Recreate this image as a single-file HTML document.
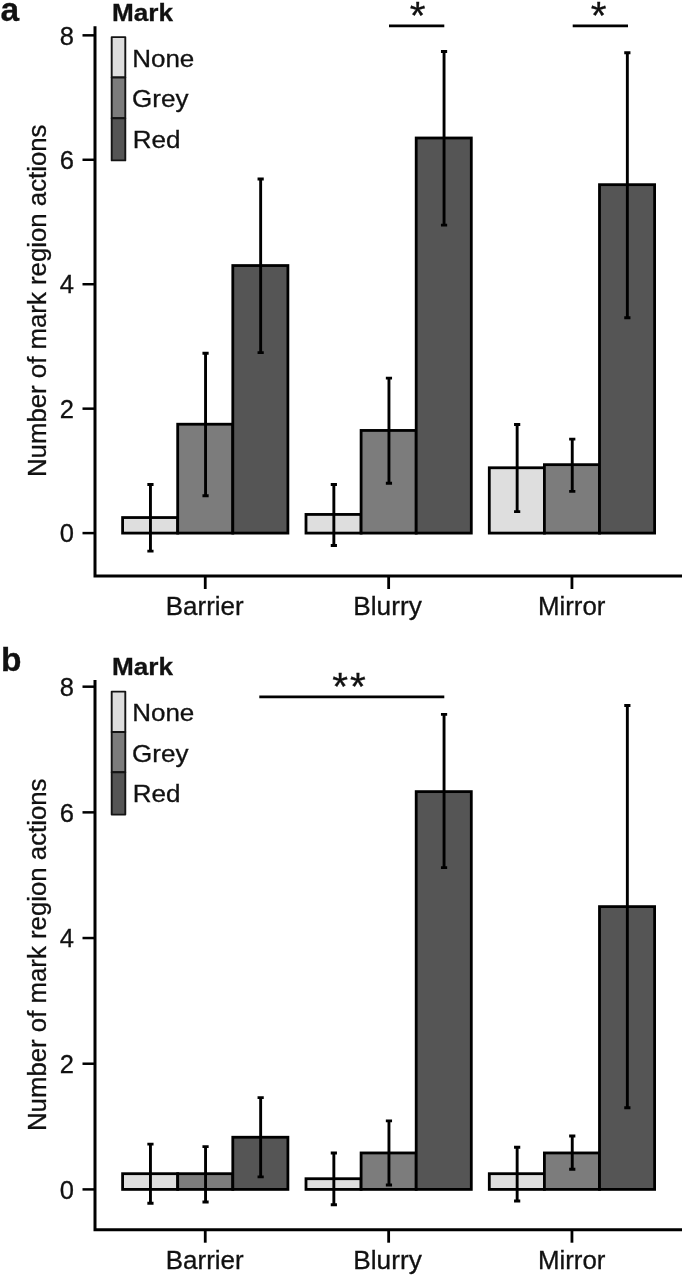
<!DOCTYPE html>
<html lang="en">
<head>
<meta charset="utf-8">
<title>Number of mark region actions</title>
<style>
html,body{margin:0;padding:0;background:#fff;}
body{width:685px;height:1277px;overflow:hidden;}
svg{display:block;will-change:transform;}
svg text{font-family:"Liberation Sans", Arial, Helvetica, sans-serif;fill:#111;stroke:#111;stroke-width:0.3px;}
</style>
</head>
<body>
<svg width="685" height="1277" viewBox="0 0 685 1277">
<rect width="685" height="1277" fill="#fff"/>
<g id="panel-a">
<rect x="122.6" y="517.55" width="55.1" height="15.55" fill="#dedede" stroke="#000" stroke-width="2.8" stroke-linejoin="miter"/>
<rect x="177.7" y="424.22" width="55.1" height="108.88" fill="#7c7c7c" stroke="#000" stroke-width="2.8" stroke-linejoin="miter"/>
<rect x="232.8" y="265.55" width="55.1" height="267.55" fill="#555555" stroke="#000" stroke-width="2.8" stroke-linejoin="miter"/>
<path d="M150.45 484.57V551.14" stroke="#000" stroke-width="2.9" fill="none"/>
<path d="M147.35 484.57h6.2M147.35 551.14h6.2" stroke="#000" stroke-width="2.9" fill="none"/>
<path d="M205.55 353.28V495.77" stroke="#000" stroke-width="2.9" fill="none"/>
<path d="M202.45 353.28h6.2M202.45 495.77h6.2" stroke="#000" stroke-width="2.9" fill="none"/>
<path d="M260.65 179.07V352.66" stroke="#000" stroke-width="2.9" fill="none"/>
<path d="M257.55 179.07h6.2M257.55 352.66h6.2" stroke="#000" stroke-width="2.9" fill="none"/>
<rect x="306" y="514.43" width="55.1" height="18.67" fill="#dedede" stroke="#000" stroke-width="2.8" stroke-linejoin="miter"/>
<rect x="361.1" y="430.44" width="55.1" height="102.66" fill="#7c7c7c" stroke="#000" stroke-width="2.8" stroke-linejoin="miter"/>
<rect x="416.2" y="138" width="55.1" height="395.1" fill="#555555" stroke="#000" stroke-width="2.8" stroke-linejoin="miter"/>
<path d="M333.85 484.57V545.54" stroke="#000" stroke-width="2.9" fill="none"/>
<path d="M330.75 484.57h6.2M330.75 545.54h6.2" stroke="#000" stroke-width="2.9" fill="none"/>
<path d="M388.95 378.17V483.32" stroke="#000" stroke-width="2.9" fill="none"/>
<path d="M385.85 378.17h6.2M385.85 483.32h6.2" stroke="#000" stroke-width="2.9" fill="none"/>
<path d="M444.05 51.52V225.11" stroke="#000" stroke-width="2.9" fill="none"/>
<path d="M440.95 51.52h6.2M440.95 225.11h6.2" stroke="#000" stroke-width="2.9" fill="none"/>
<rect x="489.3" y="467.77" width="55.1" height="65.33" fill="#dedede" stroke="#000" stroke-width="2.8" stroke-linejoin="miter"/>
<rect x="544.4" y="464.66" width="55.1" height="68.44" fill="#7c7c7c" stroke="#000" stroke-width="2.8" stroke-linejoin="miter"/>
<rect x="599.5" y="184.67" width="55.1" height="348.43" fill="#555555" stroke="#000" stroke-width="2.8" stroke-linejoin="miter"/>
<path d="M517.15 424.53V511.63" stroke="#000" stroke-width="2.9" fill="none"/>
<path d="M514.05 424.53h6.2M514.05 511.63h6.2" stroke="#000" stroke-width="2.9" fill="none"/>
<path d="M572.25 439.15V491.41" stroke="#000" stroke-width="2.9" fill="none"/>
<path d="M569.15 439.15h6.2M569.15 491.41h6.2" stroke="#000" stroke-width="2.9" fill="none"/>
<path d="M627.35 52.76V317.82" stroke="#000" stroke-width="2.9" fill="none"/>
<path d="M624.25 52.76h6.2M624.25 317.82h6.2" stroke="#000" stroke-width="2.9" fill="none"/>
<path d="M95 26.3V576H682" stroke="#000" stroke-width="3" fill="none" stroke-linejoin="miter"/>
<path d="M82.5 533.1H95" stroke="#000" stroke-width="2.5"/>
<text x="74" y="542.3" text-anchor="end" font-size="25.0" textLength="14.2" lengthAdjust="spacingAndGlyphs">0</text>
<path d="M82.5 408.66H95" stroke="#000" stroke-width="2.5"/>
<text x="74" y="417.86" text-anchor="end" font-size="25.0" textLength="14.2" lengthAdjust="spacingAndGlyphs">2</text>
<path d="M82.5 284.22H95" stroke="#000" stroke-width="2.5"/>
<text x="74" y="293.42" text-anchor="end" font-size="25.0" textLength="14.2" lengthAdjust="spacingAndGlyphs">4</text>
<path d="M82.5 159.78H95" stroke="#000" stroke-width="2.5"/>
<text x="74" y="168.98" text-anchor="end" font-size="25.0" textLength="14.2" lengthAdjust="spacingAndGlyphs">6</text>
<path d="M82.5 35.34H95" stroke="#000" stroke-width="2.5"/>
<text x="74" y="44.54" text-anchor="end" font-size="25.0" textLength="14.2" lengthAdjust="spacingAndGlyphs">8</text>
<path d="M205.25 576V589" stroke="#000" stroke-width="2.8"/>
<text x="165.8" y="614.7" font-size="25.0" textLength="77.8" lengthAdjust="spacingAndGlyphs">Barrier</text>
<path d="M388.65 576V589" stroke="#000" stroke-width="2.8"/>
<text x="353.3" y="614.7" font-size="25.0" textLength="68.5" lengthAdjust="spacingAndGlyphs">Blurry</text>
<path d="M571.95 576V589" stroke="#000" stroke-width="2.8"/>
<text x="537.9" y="614.7" font-size="25.0" textLength="67.5" lengthAdjust="spacingAndGlyphs">Mirror</text>
<text transform="translate(46.3,477) scale(1.04,1) rotate(-90)" font-size="25.3" textLength="352.5" lengthAdjust="spacingAndGlyphs">Number of mark region actions</text>
<rect x="111.7" y="37.1" width="13.6" height="40.4" fill="#dedede" stroke="#141414" stroke-width="1.9" stroke-linejoin="round"/>
<rect x="111.7" y="77.5" width="13.6" height="40.7" fill="#7c7c7c" stroke="#141414" stroke-width="1.9" stroke-linejoin="round"/>
<rect x="111.7" y="118.2" width="13.6" height="42.2" fill="#555555" stroke="#141414" stroke-width="1.9" stroke-linejoin="round"/>
<text x="132.2" y="66.8" font-size="24.2" textLength="62.1" lengthAdjust="spacingAndGlyphs">None</text>
<text x="132" y="107.3" font-size="24.2" textLength="56.4" lengthAdjust="spacingAndGlyphs">Grey</text>
<text x="132.8" y="148.2" font-size="24.2" textLength="47.7" lengthAdjust="spacingAndGlyphs">Red</text>
<text x="112" y="21.3" font-size="23.2" font-weight="bold" textLength="61" lengthAdjust="spacingAndGlyphs">Mark</text>
<text x="0.5" y="20.5" font-size="33.5" font-weight="bold">a</text>
<path d="M389 25.8H444.3" stroke="#000" stroke-width="2.8"/>
<text transform="translate(417.6,29) scale(1.04,1)" text-anchor="middle" font-size="39" stroke="#111" stroke-width="0.7" stroke-linejoin="miter">*</text>
<path d="M572.7 25.8H628" stroke="#000" stroke-width="2.8"/>
<text transform="translate(598.7,29) scale(1.04,1)" text-anchor="middle" font-size="39" stroke="#111" stroke-width="0.7" stroke-linejoin="miter">*</text>
</g>
<g id="panel-b">
<rect x="122.6" y="1173.69" width="55.1" height="15.71" fill="#dedede" stroke="#000" stroke-width="2.8" stroke-linejoin="miter"/>
<rect x="177.7" y="1173.69" width="55.1" height="15.71" fill="#7c7c7c" stroke="#000" stroke-width="2.8" stroke-linejoin="miter"/>
<rect x="232.8" y="1137.24" width="55.1" height="52.16" fill="#555555" stroke="#000" stroke-width="2.8" stroke-linejoin="miter"/>
<path d="M150.45 1144.16V1203.22" stroke="#000" stroke-width="2.9" fill="none"/>
<path d="M147.35 1144.16h6.2M147.35 1203.22h6.2" stroke="#000" stroke-width="2.9" fill="none"/>
<path d="M205.55 1146.67V1201.97" stroke="#000" stroke-width="2.9" fill="none"/>
<path d="M202.45 1146.67h6.2M202.45 1201.97h6.2" stroke="#000" stroke-width="2.9" fill="none"/>
<path d="M260.65 1097.65V1176.83" stroke="#000" stroke-width="2.9" fill="none"/>
<path d="M257.55 1097.65h6.2M257.55 1176.83h6.2" stroke="#000" stroke-width="2.9" fill="none"/>
<rect x="306" y="1178.72" width="55.1" height="10.68" fill="#dedede" stroke="#000" stroke-width="2.8" stroke-linejoin="miter"/>
<rect x="361.1" y="1152.95" width="55.1" height="36.45" fill="#7c7c7c" stroke="#000" stroke-width="2.8" stroke-linejoin="miter"/>
<rect x="416.2" y="791.62" width="55.1" height="397.78" fill="#555555" stroke="#000" stroke-width="2.8" stroke-linejoin="miter"/>
<path d="M333.85 1152.95V1204.8" stroke="#000" stroke-width="2.9" fill="none"/>
<path d="M330.75 1152.95h6.2M330.75 1204.8h6.2" stroke="#000" stroke-width="2.9" fill="none"/>
<path d="M388.95 1120.9V1185" stroke="#000" stroke-width="2.9" fill="none"/>
<path d="M385.85 1120.9h6.2M385.85 1185h6.2" stroke="#000" stroke-width="2.9" fill="none"/>
<path d="M444.05 714.33V867.66" stroke="#000" stroke-width="2.9" fill="none"/>
<path d="M440.95 714.33h6.2M440.95 867.66h6.2" stroke="#000" stroke-width="2.9" fill="none"/>
<rect x="489.3" y="1173.69" width="55.1" height="15.71" fill="#dedede" stroke="#000" stroke-width="2.8" stroke-linejoin="miter"/>
<rect x="544.4" y="1152.95" width="55.1" height="36.45" fill="#7c7c7c" stroke="#000" stroke-width="2.8" stroke-linejoin="miter"/>
<rect x="599.5" y="906.62" width="55.1" height="282.78" fill="#555555" stroke="#000" stroke-width="2.8" stroke-linejoin="miter"/>
<path d="M517.15 1147.3V1201.03" stroke="#000" stroke-width="2.9" fill="none"/>
<path d="M514.05 1147.3h6.2M514.05 1201.03h6.2" stroke="#000" stroke-width="2.9" fill="none"/>
<path d="M572.25 1135.99V1169.29" stroke="#000" stroke-width="2.9" fill="none"/>
<path d="M569.15 1135.99h6.2M569.15 1169.29h6.2" stroke="#000" stroke-width="2.9" fill="none"/>
<path d="M627.35 705.53V1107.71" stroke="#000" stroke-width="2.9" fill="none"/>
<path d="M624.25 705.53h6.2M624.25 1107.71h6.2" stroke="#000" stroke-width="2.9" fill="none"/>
<path d="M95 680.1V1229.7H682" stroke="#000" stroke-width="3" fill="none" stroke-linejoin="miter"/>
<path d="M82.5 1189.4H95" stroke="#000" stroke-width="2.5"/>
<text x="74" y="1198.6" text-anchor="end" font-size="25.0" textLength="14.2" lengthAdjust="spacingAndGlyphs">0</text>
<path d="M82.5 1063.72H95" stroke="#000" stroke-width="2.5"/>
<text x="74" y="1072.92" text-anchor="end" font-size="25.0" textLength="14.2" lengthAdjust="spacingAndGlyphs">2</text>
<path d="M82.5 938.04H95" stroke="#000" stroke-width="2.5"/>
<text x="74" y="947.24" text-anchor="end" font-size="25.0" textLength="14.2" lengthAdjust="spacingAndGlyphs">4</text>
<path d="M82.5 812.36H95" stroke="#000" stroke-width="2.5"/>
<text x="74" y="821.56" text-anchor="end" font-size="25.0" textLength="14.2" lengthAdjust="spacingAndGlyphs">6</text>
<path d="M82.5 686.68H95" stroke="#000" stroke-width="2.5"/>
<text x="74" y="695.88" text-anchor="end" font-size="25.0" textLength="14.2" lengthAdjust="spacingAndGlyphs">8</text>
<path d="M205.25 1229.7V1242.7" stroke="#000" stroke-width="2.8"/>
<text x="165.8" y="1269" font-size="25.0" textLength="77.8" lengthAdjust="spacingAndGlyphs">Barrier</text>
<path d="M388.65 1229.7V1242.7" stroke="#000" stroke-width="2.8"/>
<text x="353.3" y="1269" font-size="25.0" textLength="68.5" lengthAdjust="spacingAndGlyphs">Blurry</text>
<path d="M571.95 1229.7V1242.7" stroke="#000" stroke-width="2.8"/>
<text x="537.9" y="1269" font-size="25.0" textLength="67.5" lengthAdjust="spacingAndGlyphs">Mirror</text>
<text transform="translate(46.3,1131) scale(1.04,1) rotate(-90)" font-size="25.3" textLength="352.5" lengthAdjust="spacingAndGlyphs">Number of mark region actions</text>
<rect x="111.7" y="691.6" width="13.6" height="40.4" fill="#dedede" stroke="#141414" stroke-width="1.9" stroke-linejoin="round"/>
<rect x="111.7" y="732" width="13.6" height="40.3" fill="#7c7c7c" stroke="#141414" stroke-width="1.9" stroke-linejoin="round"/>
<rect x="111.7" y="772.3" width="13.6" height="42.3" fill="#555555" stroke="#141414" stroke-width="1.9" stroke-linejoin="round"/>
<text x="132.2" y="720.8" font-size="24.2" textLength="62.1" lengthAdjust="spacingAndGlyphs">None</text>
<text x="132" y="761.5" font-size="24.2" textLength="56.4" lengthAdjust="spacingAndGlyphs">Grey</text>
<text x="132.8" y="802.1" font-size="24.2" textLength="47.7" lengthAdjust="spacingAndGlyphs">Red</text>
<text x="112" y="674.7" font-size="23.2" font-weight="bold" textLength="61" lengthAdjust="spacingAndGlyphs">Mark</text>
<text x="1" y="671" font-size="33.5" font-weight="bold">b</text>
<path d="M259.3 696.9H444.3" stroke="#000" stroke-width="2.8"/>
<text transform="translate(350,700) scale(1.04,1)" text-anchor="middle" font-size="39" stroke="#111" stroke-width="0.7" stroke-linejoin="miter" letter-spacing="2.0">**</text>
</g>
</svg>
</body>
</html>
